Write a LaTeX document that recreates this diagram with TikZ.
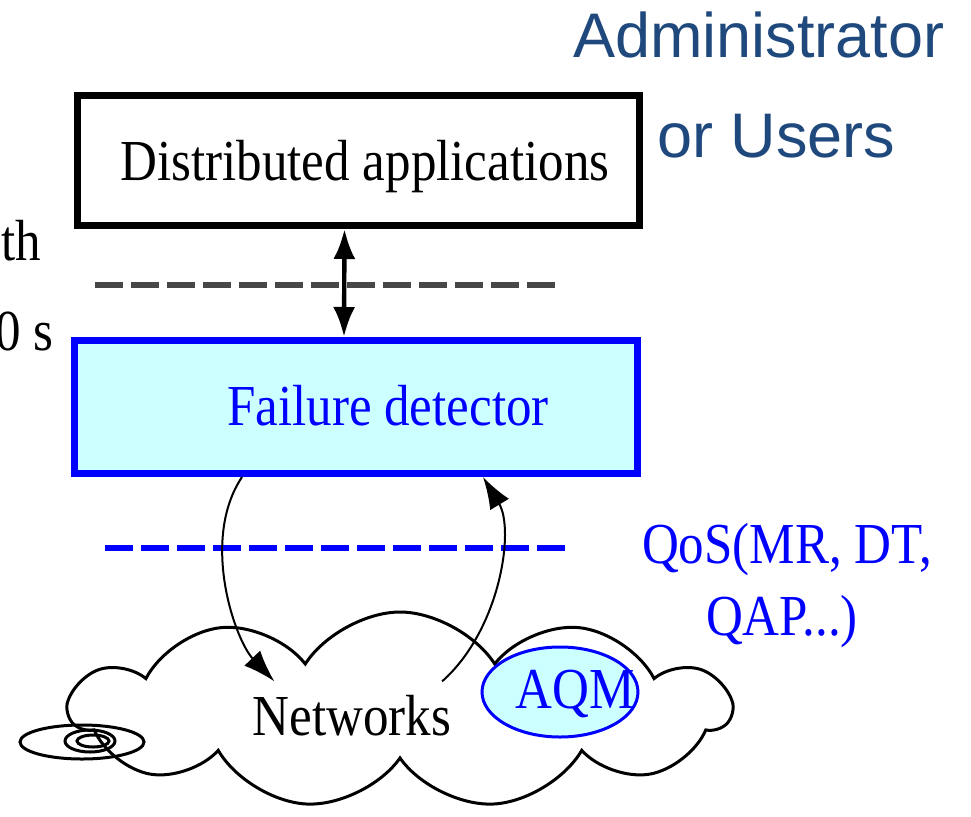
\documentclass[tikz,border=0pt]{standalone}
\usepackage{fontspec}
\setmainfont[FakeStretch=0.88]{Liberation Serif}
\newfontfamily\adminfont{Liberation Sans}
\usepackage{tikz}
\usepackage{xcolor}
\usetikzlibrary{arrows,arrows.meta,shapes}

\definecolor{fdfill}{HTML}{CCFFFF}
\definecolor{admblue}{HTML}{1F497D}

\tikzstyle{boxD}	= [rectangle, draw=black, line width=3.5pt, minimum width=281pt, minimum height=65pt, inner sep=0pt]
\tikzstyle{boxF}	= [rectangle, draw=blue, fill=fdfill, line width=3.5pt, minimum width=281.5pt, minimum height=66.5pt, inner sep=0pt]
\tikzstyle{txt}		= [inner sep=0pt, font=\fontsize{29pt}{36pt}\selectfont]
\tikzstyle{txtA}	= [inner sep=0pt, text=admblue, font=\adminfont\fontsize{31.5pt}{38pt}\selectfont]
\tikzstyle{netcloud}	= [cloud, draw=black, line width=1.5pt, cloud puffs=11, cloud puff arc=115, aspect=3.3, minimum width=330pt, minimum height=98pt, inner sep=0pt]
\tikzstyle{aqm}		= [ellipse, draw=blue, fill=fdfill, line width=1.5pt, minimum width=78pt, minimum height=45pt, inner sep=0pt]
\tikzstyle{ring}	= [ellipse, draw=black, line width=1.5pt, inner sep=0pt]
\tikzstyle{edgeud}	= [draw, line width=2.2pt, {Latex[length=15pt,width=11pt]}-{Latex[length=15pt,width=11pt]}]
\tikzstyle{edgecv}	= [draw, line width=1pt, -{Latex[length=16pt,width=11pt]}]
\tikzstyle{sepD}	= [draw=black!72, line width=2.8pt, dash pattern=on 14pt off 4pt]
\tikzstyle{sepF}	= [draw=blue, line width=2.8pt, dash pattern=on 14pt off 4pt]

\begin{document}
\begin{tikzpicture}[x=0.5pt, y=-0.5pt]
	\useasboundingbox (0,0) rectangle (971,816);
	\clip (0,0) rectangle (971,816);

	%%%% Network cloud
	\node[netcloud] (net) at (400,710) {};
	\node[txt, anchor=base] (nettxt) at (352,735) {Networks};
	\node[aqm] (aqm) at (560,692) {};
	\node[txt, anchor=base, text=blue] (aqmtxt) at (575,708) {AQM};
	\node[ring, minimum width=62pt, minimum height=17pt] (r1) at (82,742) {};
	\node[ring, minimum width=25pt, minimum height=11pt] (r2) at (90,741) {};
	\node[ring, minimum width=16pt, minimum height=6pt] (r3) at (93,741) {};

	%%%% Layers
	\node[boxD] (da) at (358.5,160.5) {};
	\node[txt, anchor=base] (datxt) at (365,180) {Distributed applications};
	\node[boxF] (fd) at (356,407) {};
	\node[txt, anchor=base, text=blue] (fdtxt) at (388,425) {Failure detector};

	\draw[sepD] (95,285) -- (560,285);
	\draw[sepF] (105,548) -- (570,548);

	%%%% Labels
	\node[txtA, anchor=base west] (admin) at (573,57) {Administrator};
	\node[txtA, anchor=base west] (users) at (657,157) {or Users};
	\node[txt, anchor=base, text=blue] (qos1) at (787,563) {QoS(MR, DT,};
	\node[txt, anchor=base, text=blue] (qos2) at (782,635) {QAP...)};
	\node[txt, anchor=base west] (th) at (1,260) {th};
	\node[txt, anchor=base east] (zs) at (54,350) {0 s};

	%%%% Arrows
	\path[edgeud] ([xshift=-7pt]da.south) -- ([xshift=-6pt]fd.north);
	\path[edgecv] ([xshift=-57pt]fd.south) .. controls (200,540) and (235,640) .. ([xshift=11pt,yshift=6.5pt]nettxt.north west);
	\path[edgecv] ([xshift=-4.75pt,yshift=6.5pt]nettxt.north east) .. controls (500,630) and (515,530) .. ([xshift=63.5pt]fd.south);
\end{tikzpicture}
\end{document}
